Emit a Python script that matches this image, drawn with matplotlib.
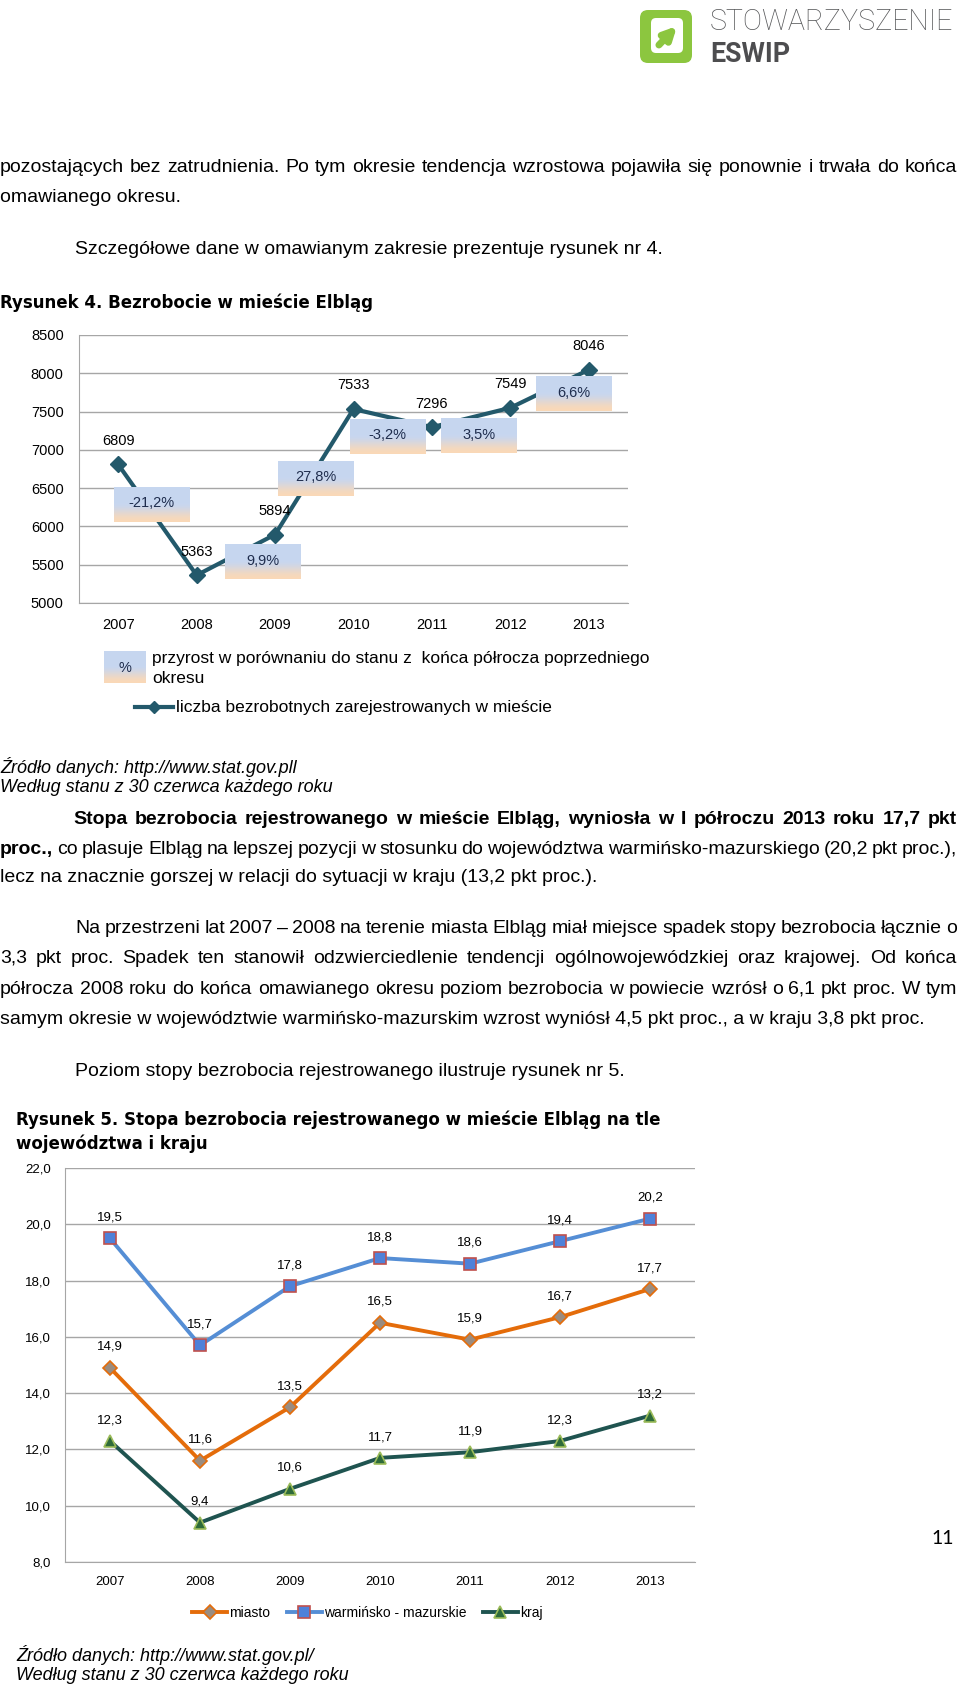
import numpy as np
import matplotlib
matplotlib.use('Agg')
import matplotlib.pyplot as plt
from matplotlib.patches import FancyBboxPatch

# --- data -------------------------------------------------------------
years = ['2007', '2008', '2009', '2010', '2011', '2012', '2013']

# Rysunek 4 - liczba bezrobotnych w Elblągu
bezrobotni = [6809, 5363, 5894, 7533, 7296, 7549, 8046]
przyrost = ['-21,2%', '9,9%', '27,8%', '-3,2%', '3,5%', '6,6%']

# Rysunek 5 - stopa bezrobocia
miasto = [14.9, 11.6, 13.5, 16.5, 15.9, 16.7, 17.7]
wojewodztwo = [19.5, 15.7, 17.8, 18.8, 18.6, 19.4, 20.2]
kraj = [12.3, 9.4, 10.6, 11.7, 11.9, 12.3, 13.2]

# where the growth boxes were dragged to, relative to the middle of each segment
box_dx = [-0.08, 0.34, 0.02, -0.07, 0.10, 0.31]
box_dy = [196, -94, -86, -241, -243, -71]

W, H = 960, 1689
NARROW = ['Liberation Sans Narrow', 'Liberation Sans', 'DejaVu Sans']
ARIAL = ['Liberation Sans', 'DejaVu Sans']
VERD = ['DejaVu Sans']

fig = plt.figure(figsize=(W / 100, H / 100), dpi=100)
fig.patch.set_facecolor('white')
page = fig.add_axes([0, 0, 1, 1])
page.set_xlim(0, W)
page.set_ylim(H, 0)
page.axis('off')
renderer = fig.canvas.get_renderer()


def rect(x0, x1, y0, y1):
    return [x0 / W, 1 - y1 / H, (x1 - x0) / W, (y1 - y0) / H]


def line(y, parts, x0, x1=None, size=14, family=NARROW, style='normal'):
    # parts: list of (text, weight); justified between x0 and x1 when x1 given
    if x1 is None:
        x = x0
        for txt, wt in parts:
            t = page.text(x, y, txt, fontsize=size, family=family,
                          fontweight=wt, style=style, va='center')
            x += t.get_window_extent(renderer).width
        return
    words = []
    for txt, wt in parts:
        words += [(w, wt) for w in txt.split(' ') if w]
    arts = [page.text(0, y, w, fontsize=size, family=family, fontweight=wt,
                      style=style, va='center') for w, wt in words]
    widths = [a.get_window_extent(renderer).width for a in arts]
    gap = (x1 - x0 - sum(widths)) / (len(arts) - 1)
    x = x0
    for a, w in zip(arts, widths):
        a.set_x(x)
        x += w + gap


def gradient():
    g = np.linspace(0, 1, 80)[:, None]
    t = np.clip(g / 0.55, 0, 1)
    t = t * t * (3 - 2 * t)
    peach = np.array([0.98, 0.85, 0.72])
    blue = np.array([0.78, 0.84, 0.94])
    return (peach + (blue - peach) * t)[:, None, :]


# --- logo --------------------------------------------------------------
green = '#8cc63f'
page.add_patch(FancyBboxPatch((643, 13), 46, 47, boxstyle='round,pad=3,rounding_size=8',
                              fc=green, ec='none'))
page.add_patch(FancyBboxPatch((652, 19), 30, 33, boxstyle='round,pad=1,rounding_size=5',
                              fc='white', ec='none'))
page.annotate('', xy=(679, 24), xytext=(657, 47),
              arrowprops=dict(arrowstyle='-|>', lw=5, color=green, mutation_scale=18))
t = page.text(710, 22, 'STOWARZYSZENIE', fontsize=20, family=['Roboto', 'DejaVu Sans'],
              fontweight='light', color='#58595b', va='center')
t.set_fontsize(20 * 243 / t.get_window_extent(renderer).width)
t = page.text(710, 54, 'ESWIP', fontsize=20, family=['Roboto', 'DejaVu Sans'],
              fontweight='bold', color='#4d4d4f', va='center')
t.set_fontsize(20 * 80 / t.get_window_extent(renderer).width)

# --- text above chart 1 ------------------------------------------------
line(167, [('pozostających bez zatrudnienia. Po tym okresie tendencja wzrostowa pojawiła się '
            'ponownie i trwała do końca', 'normal')], 0, 957)
line(197, [('omawianego okresu.', 'normal')], 0)
line(249, [('Szczegółowe dane w omawianym zakresie prezentuje rysunek nr 4.', 'normal')], 75)
page.text(0, 303, 'Rysunek 4. Bezrobocie w mieście Elbląg', fontsize=12, family=VERD,
          fontweight='bold', va='center')

# --- chart 1 -----------------------------------------------------------
teal = '#23596b'
grid = '#a6a6a6'
x = np.arange(len(years))
ax1 = fig.add_axes(rect(79, 628, 335, 603))
ax1.set_facecolor('none')
ax1.plot(x, bezrobotni, color=teal, lw=3, marker='D', ms=8, zorder=3)
for i, v in enumerate(bezrobotni):
    ax1.annotate(str(v), (i, v), xytext=(0, 17), textcoords='offset points',
                 ha='center', va='center', fontsize=10.5, family=ARIAL)
img = gradient()
for i, lab in enumerate(przyrost):
    cx = i + 0.5 + box_dx[i]
    cy = (bezrobotni[i] + bezrobotni[i + 1]) / 2 + box_dy[i]
    ax1.imshow(img, extent=[cx - 0.48, cx + 0.48, cy - 225, cy + 225], origin='lower',
               aspect='auto', zorder=5)
    ax1.text(cx, cy + 20, lab, ha='center', va='center', fontsize=10.5, family=ARIAL,
             color='#1f2d4d', zorder=6)
ax1.set_xlim(-0.5, 6.5)
ax1.set_ylim(5000, 8500)
ax1.set_yticks(range(5000, 8501, 500))
ax1.set_xticks(x)
ax1.set_xticklabels(years)
ax1.grid(axis='y', color=grid, lw=1)
ax1.set_axisbelow(True)
for s in ['top', 'right']:
    ax1.spines[s].set_visible(False)
for s in ['left', 'bottom']:
    ax1.spines[s].set_color(grid)
ax1.tick_params(length=0, labelsize=10.5, pad=11)
for lab in ax1.get_xticklabels() + ax1.get_yticklabels():
    lab.set_family(ARIAL)

# legend of chart 1
page.imshow(img, extent=[104, 146, 683, 652], origin='lower', aspect='auto')
page.text(125, 668, '%', ha='center', va='center', fontsize=10.5, family=ARIAL, color='#1f2d4d')
page.text(152, 659, 'przyrost w porównaniu do stanu z  końca półrocza poprzedniego',
          fontsize=12.5, family=ARIAL, va='center')
page.text(152, 678, 'okresu', fontsize=12.5, family=ARIAL, va='center')
page.plot([135, 173], [707, 707], color=teal, lw=3)
page.plot([154], [707], marker='D', ms=6, color=teal)
page.text(176, 707, 'liczba bezrobotnych zarejestrowanych w mieście', fontsize=12.5,
          family=ARIAL, va='center')
page.set_xlim(0, W)
page.set_ylim(H, 0)

# --- text between charts -------------------------------------------------
line(767, [('Źródło danych: http://www.stat.gov.pll', 'normal')], 0, style='italic', size=13)
line(787, [('Według stanu z 30 czerwca każdego roku', 'normal')], 0, style='italic', size=13)
line(819, [('Stopa bezrobocia rejestrowanego w mieście Elbląg, wyniosła w I półroczu 2013 '
            'roku 17,7 pkt', 'bold')], 73, 957)
line(849, [('proc.,', 'bold'), ('co plasuje Elbląg na lepszej pozycji w stosunku do województwa '
                                'warmińsko-mazurskiego (20,2 pkt proc.),', 'normal')], 0, 957)
line(877, [('lecz na znacznie gorszej w relacji do sytuacji w kraju (13,2 pkt proc.).', 'normal')], 0)
line(928, [('Na przestrzeni lat 2007 – 2008 na terenie miasta Elbląg miał miejsce spadek stopy '
            'bezrobocia łącznie o', 'normal')], 75, 957)
line(958, [('3,3 pkt proc. Spadek ten stanowił odzwierciedlenie tendencji ogólnowojewódzkiej '
            'oraz krajowej. Od końca', 'normal')], 0, 957)
line(989, [('półrocza 2008 roku do końca omawianego okresu poziom bezrobocia w powiecie wzrósł '
            'o 6,1 pkt proc. W tym', 'normal')], 0, 957)
line(1019, [('samym okresie w województwie warmińsko-mazurskim wzrost wyniósł 4,5 pkt proc., '
             'a w kraju 3,8 pkt proc.', 'normal')], 0)
line(1072, [('Poziom stopy bezrobocia rejestrowanego ilustruje rysunek nr 5.', 'normal')], 75)
page.text(16, 1120, 'Rysunek 5. Stopa bezrobocia rejestrowanego w mieście Elbląg na tle',
          fontsize=12, family=VERD, fontweight='bold', va='center')
page.text(16, 1144, 'województwa i kraju', fontsize=12, family=VERD, fontweight='bold',
          va='center')

# --- chart 2 -----------------------------------------------------------
ax2 = fig.add_axes(rect(65, 695, 1168, 1562))
ax2.set_facecolor('none')
series = [
    ('miasto', miasto, dict(color='#e46c0a', marker='D', ms=7, mfc='#9a8c80', mec='#e46c0a')),
    ('warmińsko - mazurskie', wojewodztwo,
     dict(color='#558ed5', marker='s', ms=9, mfc='#4f81d9', mec='#c0504d')),
    ('kraj', kraj, dict(color='#1f5450', marker='^', ms=9, mfc='#2e6b3a', mec='#9bbb59')),
]
for name, vals, st in series:
    ax2.plot(x, vals, lw=2.8, label=name, mew=1.2, **st)
    for i, v in enumerate(vals):
        ax2.annotate(f'{v:.1f}'.replace('.', ','), (i, v), xytext=(0, 15),
                     textcoords='offset points', ha='center', va='center',
                     fontsize=9.5, family=ARIAL)
ax2.set_xlim(-0.5, 6.5)
ax2.set_ylim(8, 22)
yt = np.arange(8, 23, 2)
ax2.set_yticks(yt)
ax2.set_yticklabels([f'{v:.1f}'.replace('.', ',') for v in yt])
ax2.set_xticks(x)
ax2.set_xticklabels(years)
ax2.grid(axis='y', color=grid, lw=1)
ax2.set_axisbelow(True)
for s in ['top', 'right']:
    ax2.spines[s].set_visible(False)
for s in ['left', 'bottom']:
    ax2.spines[s].set_color(grid)
ax2.tick_params(length=0, labelsize=9.5, pad=10)
for lab in ax2.get_xticklabels() + ax2.get_yticklabels():
    lab.set_family(ARIAL)
leg = ax2.legend(ncol=3, loc='center', bbox_to_anchor=(0.48, -0.13), frameon=False,
                 handlelength=2.5, handletextpad=0.15, columnspacing=1.2,
                 prop={'family': ARIAL, 'size': 10})

line(1655, [('Źródło danych: http://www.stat.gov.pl/', 'normal')], 16, style='italic', size=13)
line(1675, [('Według stanu z 30 czerwca każdego roku', 'normal')], 16, style='italic', size=13)
page.text(943, 1539, '11', fontsize=14, family=['Lato', 'DejaVu Sans'], va='center', ha='center')

fig.savefig('out.png', dpi=100)
